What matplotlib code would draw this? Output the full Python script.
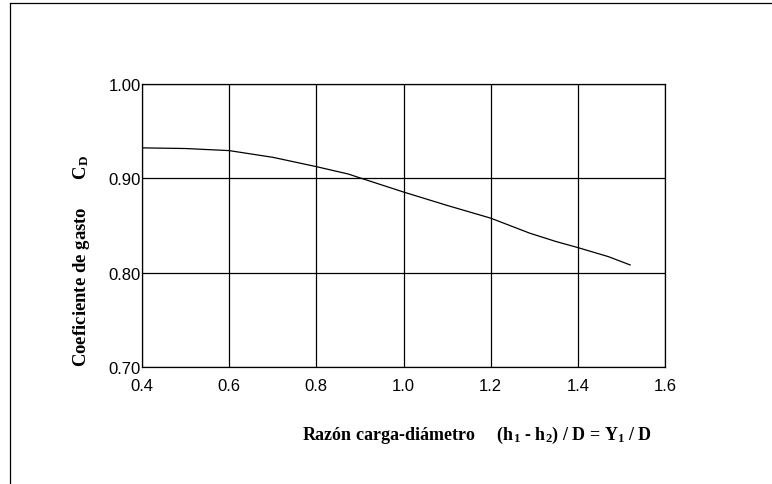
import matplotlib
matplotlib.use("Agg")
import matplotlib.pyplot as plt
from matplotlib.lines import Line2D

plt.rcParams['mathtext.fontset'] = 'custom'
plt.rcParams['mathtext.rm'] = 'Liberation Serif:bold'
plt.rcParams['mathtext.it'] = 'Liberation Serif:bold'
plt.rcParams['mathtext.bf'] = 'Liberation Serif:bold'

# Data
x_ratio = [0.40, 0.50, 0.60, 0.70, 0.80, 0.873, 0.90, 1.00, 1.10, 1.20, 1.29, 1.35, 1.40, 1.47, 1.52]
cd = [0.9323, 0.9316, 0.9294, 0.9223, 0.9124, 0.9046, 0.9005, 0.8855, 0.8713, 0.8578, 0.8418, 0.8330, 0.8266, 0.8170, 0.8082]
xticks = [0.4, 0.6, 0.8, 1.0, 1.2, 1.4, 1.6]
xtick_labels = ["0.4", "0.6", "0.8", "1.0", "1.2", "1.4", "1.6"]
yticks = [0.70, 0.80, 0.90, 1.00]
ytick_labels = ["0.70", "0.80", "0.90", "1.00"]
xlabel = r"Razón carga-diámetro     (h$_{1}$ - h$_{2}$) / D = Y$_{1}$ / D"
ylabel = r"Coeficiente de gasto      C$_{\mathrm{D}}$"

fig = plt.figure(figsize=(7.72, 4.85), dpi=100)
fig.patch.set_facecolor('white')
ax = fig.add_axes([142/772, 1 - 368/485, 523/772, 283/485])

ax.plot(x_ratio, cd, color='black', lw=0.9)
ax.set_xlim(0.4, 1.6)
ax.set_ylim(0.70, 1.00)
ax.set_xticks(xticks)
ax.set_xticklabels(xtick_labels, family='Liberation Sans', fontsize=12)
ax.set_yticks(yticks)
ax.set_yticklabels(ytick_labels, family='Liberation Sans', fontsize=12)
ax.tick_params(length=0, colors='black')
ax.tick_params(axis='y', pad=1)
ax.tick_params(axis='x', pad=8)
ax.grid(True, color='black', lw=0.9)
for s in ax.spines.values():
    s.set_color('black')
    s.set_linewidth(0.9)

fig.text(81/772, 1 - 261/485, ylabel, rotation=90, ha='center', va='center',
         family='Liberation Serif', fontweight='bold', fontsize=13.5)
fig.text(477/772, 1 - 435/485, xlabel, ha='center', va='center',
         family='Liberation Serif', fontweight='bold', fontsize=13)

# outer frame (left and top edges)
fig.add_artist(Line2D([9.5/772, 9.5/772], [0, 1 - 4/485], transform=fig.transFigure, color='black', lw=0.9))
fig.add_artist(Line2D([9.5/772, 1], [1 - 4/485, 1 - 4/485], transform=fig.transFigure, color='black', lw=0.9))

fig.savefig('out.png', dpi=100, facecolor='white')
